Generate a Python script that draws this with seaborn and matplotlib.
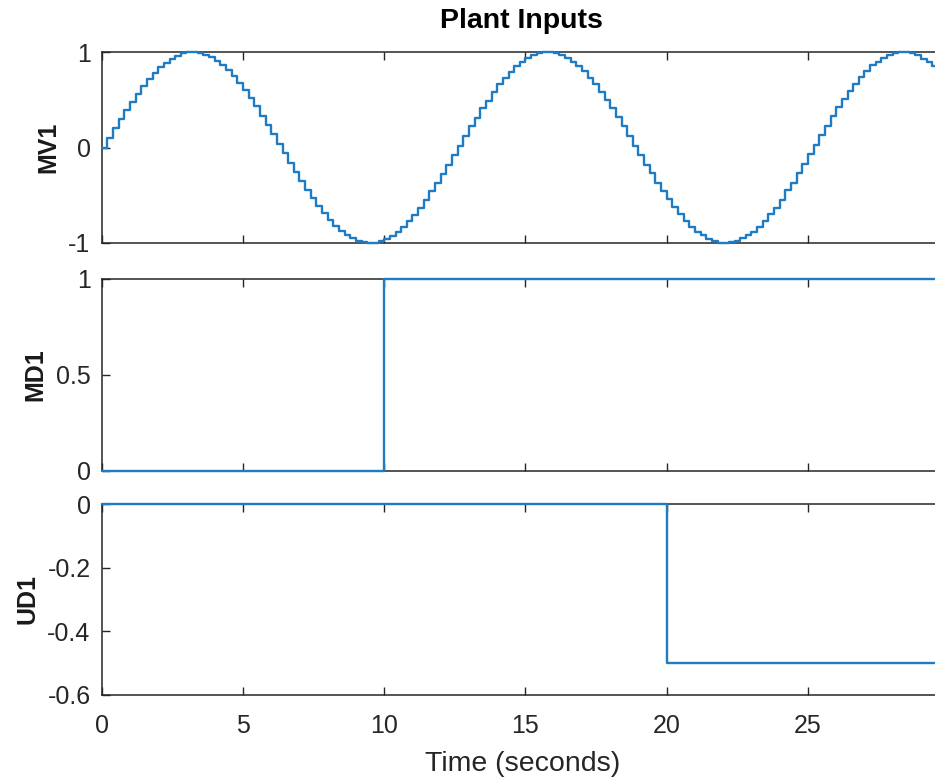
import matplotlib
matplotlib.use("Agg")
import matplotlib.pyplot as plt
import seaborn as sns
import pandas as pd
from matplotlib.ticker import FormatStrFormatter

# ---- data ----
sample_time = 0.2
mv1_values = [
    0.00, 0.10, 0.20, 0.30, 0.39, 0.48, 0.56, 0.64, 0.72, 0.78,
    0.84, 0.89, 0.93, 0.96, 0.99, 1.00, 1.00, 0.99, 0.97, 0.95,
    0.91, 0.86, 0.81, 0.75, 0.68, 0.60, 0.52, 0.43, 0.33, 0.24,
    0.14, 0.04, -0.06, -0.16, -0.26, -0.35, -0.44, -0.53, -0.61, -0.69,
    -0.76, -0.82, -0.87, -0.92, -0.95, -0.98, -0.99, -1.00, -1.00, -0.98,
    -0.96, -0.93, -0.88, -0.83, -0.77, -0.71, -0.63, -0.55, -0.46, -0.37,
    -0.28, -0.18, -0.08, 0.02, 0.12, 0.22, 0.31, 0.41, 0.49, 0.58,
    0.66, 0.73, 0.79, 0.85, 0.90, 0.94, 0.97, 0.99, 1.00, 1.00,
    0.99, 0.97, 0.94, 0.90, 0.85, 0.80, 0.73, 0.66, 0.58, 0.50,
    0.41, 0.32, 0.22, 0.12, 0.02, -0.08, -0.18, -0.27, -0.37, -0.46,
    -0.54, -0.62, -0.70, -0.77, -0.83, -0.88, -0.92, -0.96, -0.98, -1.00,
    -1.00, -0.99, -0.98, -0.95, -0.92, -0.88, -0.83, -0.77, -0.70, -0.63,
    -0.55, -0.45, -0.37, -0.27, -0.17, -0.07, 0.03, 0.13, 0.23, 0.33,
    0.42, 0.51, 0.59, 0.67, 0.74, 0.80, 0.86, 0.90, 0.94, 0.97,
    0.99, 1.00, 1.00, 0.99, 0.97, 0.93, 0.90, 0.85, 0.79, 0.72,
]
mv1_time = [round(i * sample_time, 1) for i in range(len(mv1_values))]

md1_time = [0.0, 10.0, 30.0]
md1_values = [0.0, 1.0, 1.0]

ud1_time = [0.0, 20.0, 30.0]
ud1_values = [0.0, -0.5, -0.5]

x_ticks = [0, 5, 10, 15, 20, 25]
mv1_ticks = [-1, 0, 1]
md1_ticks = [0, 0.5, 1]
ud1_ticks = [-0.6, -0.4, -0.2, 0]

title = "Plant Inputs"
x_label = "Time (seconds)"
y_labels = ["MV1", "MD1", "UD1"]

# ---- style ----
sns.set_theme(style="ticks")
plt.rcParams["font.family"] = ["Liberation Sans", "DejaVu Sans"]
plt.rcParams["axes.unicode_minus"] = False

line_color = "#1f7cc4"
axis_color = "#262626"

W, H = 935, 783
fig = plt.figure(figsize=(W / 100, H / 100), dpi=100)

left = 101.7 / W
x_end = 29.8
px_per_unit = 28.25
width = (x_end * px_per_unit) / W
boxes = [(52, 243), (279, 471), (504, 695)]

series = [
    (mv1_time, mv1_values, (-1, 1), mv1_ticks),
    (md1_time, md1_values, (0, 1), md1_ticks),
    (ud1_time, ud1_values, (-0.6, 0), ud1_ticks),
]

for i, ((top, bot), (t, v, ylim, yt)) in enumerate(zip(boxes, series)):
    ax = fig.add_axes([left, 1 - bot / H, width, (bot - top) / H])
    df = pd.DataFrame({"t": t, "v": v})
    sns.lineplot(data=df, x="t", y="v", ax=ax, color=line_color,
                 linewidth=1.7, drawstyle="steps-post", estimator=None,
                 sort=False, zorder=4)
    for ln in ax.get_lines():
        ln.set_clip_on(False)
    ax.set_xlim(0, x_end)
    ax.set_ylim(*ylim)
    ax.set_xticks(x_ticks)
    ax.set_yticks(yt)
    ax.yaxis.set_major_formatter(FormatStrFormatter("%g"))
    ax.tick_params(direction="in", length=6, width=1.0, colors=axis_color,
                   labelsize=18, top=True, right=True)
    ax.tick_params(axis="y", pad=8)
    ax.tick_params(axis="x", pad=14)
    for s in ax.spines.values():
        s.set_color(axis_color)
        s.set_linewidth(1.1)
    ax.set_ylabel(y_labels[i], fontsize=18, fontweight="bold",
                  color="#1a1a1a", labelpad=6)
    if i < 2:
        ax.set_xlabel("")
        ax.tick_params(axis="x", labelbottom=False)
    else:
        ax.set_xlabel(x_label, fontsize=20.5, color=axis_color, labelpad=9)

fig.text(521 / W, 1 - 21 / H, title,
         fontsize=20.5, fontweight="bold", color="black",
         ha="center", va="center")

fig.savefig("out.png", dpi=100)
